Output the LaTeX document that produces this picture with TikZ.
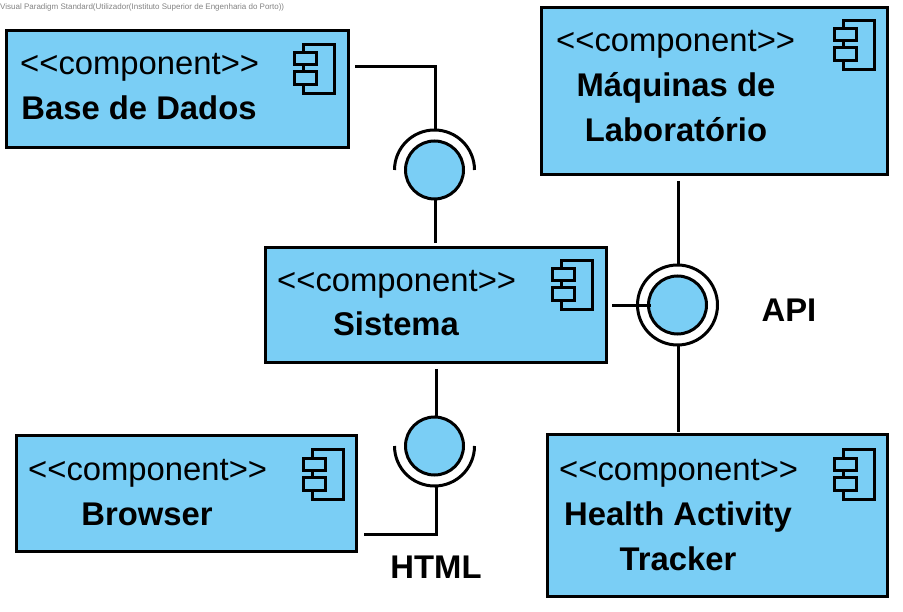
\documentclass[tikz,border=0pt]{standalone}
\usepackage{fontspec}
\setmainfont{Liberation Sans}
\usepackage{xcolor}
\definecolor{compblue}{RGB}{122,206,245}
\definecolor{wmgray}{RGB}{130,130,130}
\usetikzlibrary{positioning}
\tikzset{
  compicon/.pic={
    \draw[line width=3pt] (-31,0) rectangle (0,49);
    \draw[line width=3pt,fill=compblue] (-40,8) rectangle (-18,20);
    \draw[line width=3pt,fill=compblue] (-40,27) rectangle (-18,40);
  }
}
\begin{document}
\begin{tikzpicture}[x=1pt,y=-1pt,
  box/.style={draw,line width=3pt,fill=compblue,inner sep=0pt,outer sep=0pt},
  stereo/.style={anchor=base west,inner sep=0pt,font=\fontsize{32.8}{39}\selectfont},
  title/.style={anchor=base,inner sep=0pt,font=\fontsize{32.8}{39}\selectfont\bfseries},
  port/.style={circle,draw,line width=3pt,fill=compblue,minimum size=58pt,inner sep=0pt,outer sep=0pt},
  socket/.style={circle,minimum size=80pt,inner sep=0pt,outer sep=0pt},
  wire/.style={line width=3pt}]
  \useasboundingbox (0,0) rectangle (903,612);
  % Watermark
  \node[anchor=west,inner sep=0pt,wmgray,font=\fontsize{8}{9}\selectfont] (mark) at (0,7) {Visual Paradigm Standard(Utilizador(Instituto Superior de Engenharia do Porto))};
  % Base de Dados
  \node[box,minimum width=342pt,minimum height=117pt] (base) at (177.5,89) {};
  \node[stereo] (basest) at (20,75) {<{}<component>{}>};
  \node[title] (basett) at (139,120) {Base de Dados};
  \pic at (334,45) {compicon};
  % Maquinas de Laboratorio
  \node[box,minimum width=346pt,minimum height=167pt] (lab) at (714.5,91) {};
  \node[stereo] (labst) at (556,52) {<{}<component>{}>};
  \node[title] (labtt) at (676,97) {Máquinas de};
  \node[title] (labttb) at (676,142) {Laboratório};
  \pic at (874,21) {compicon};
  % Sistema
  \node[box,minimum width=341pt,minimum height=115pt] (sis) at (436,305) {};
  \node[stereo] (sisst) at (277,292) {<{}<component>{}>};
  \node[title] (sistt) at (396,336) {Sistema};
  \pic at (592,261) {compicon};
  % Browser
  \node[box,minimum width=340pt,minimum height=116pt] (brw) at (186.5,493.5) {};
  \node[stereo] (brwst) at (28,480) {<{}<component>{}>};
  \node[title] (brwtt) at (147,525) {Browser};
  \pic at (343,450) {compicon};
  % Health Activity Tracker
  \node[box,minimum width=340pt,minimum height=162pt] (hat) at (717.5,515.5) {};
  \node[stereo] (hatst) at (559,480) {<{}<component>{}>};
  \node[title] (hattt) at (678,525) {Health Activity};
  \node[title] (hattb) at (678,570) {Tracker};
  \pic at (874,450) {compicon};
  % Base de Dados interface
  \node[socket] (dbsock) at (434.5,170) {};
  \node[port] (dbport) at (434.5,170) {};
  \coordinate (dbstub) at (355,67);
  \coordinate (dbbend) at (435.5,67);
  \coordinate (dbsis) at (435.5,243);
  \draw[wire] (dbsock.west) arc[start angle=180,end angle=360,radius=40];
  \draw[wire] (dbstub) -- (dbbend) -- (dbbend |- dbsock.north);
  \draw[wire] (dbsis) -- (dbsis |- dbport.south);
  % API interface
  \node[port,fill=white,minimum size=80pt] (apiring) at (677.5,305) {};
  \node[port] (apiport) at (677.5,305) {};
  \coordinate (apistub) at (612,306);
  \coordinate (apiend) at (651,306);
  \coordinate (apilab) at (678,181);
  \coordinate (apihat) at (678,432);
  \draw[wire] (apistub) -- (apiend);
  \draw[wire] (apilab) -- (apilab |- apiring.north);
  \draw[wire] (apihat) -- (apihat |- apiring.south);
  \node[title] (apitxt) at (789,322) {API};
  % HTML interface
  \node[socket] (htmlsock) at (434.5,446) {};
  \node[port] (htmlport) at (434.5,446) {};
  \coordinate (htmlsis) at (436,369);
  \coordinate (htmlbend) at (436,534);
  \coordinate (htmlstub) at (364,534);
  \draw[wire] (htmlsock.west) arc[start angle=180,end angle=0,radius=40];
  \draw[wire] (htmlsis) -- (htmlsis |- htmlport.north);
  \draw[wire] (htmlsock.south -| htmlbend) -- (htmlbend) -- (htmlstub);
  \node[title] (htmltxt) at (436,578) {HTML};
\end{tikzpicture}
\end{document}
